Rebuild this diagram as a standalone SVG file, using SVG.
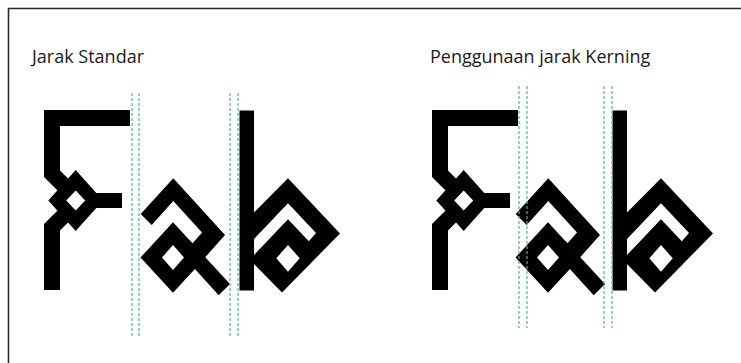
<svg xmlns="http://www.w3.org/2000/svg" width="741" height="363" viewBox="0 0 741 363">
  <style>
    .frame { fill: none; stroke: #2b2b2b; stroke-width: 1.6; }
    .title { font-family: "Open Sans", "Liberation Sans", sans-serif; font-size: 18px; fill: #1a1a1a; }
    .ink { fill: #000; fill-rule: evenodd; }
    .guide { stroke: #45b3ac; stroke-width: 1.2; stroke-dasharray: 3 2; fill: none; }
  </style>
  <defs>
    <g id="glyph-F">
      <rect class="ink" x="44" y="110" width="86" height="16"/>
      <path class="ink" d="M44,110 H60 V170.4 L71,181.4 L60.3,193.3 L44,177 Z"/>
      <path class="ink" d="M44,224 L60.3,207.7 L71,219.6 L60,230.6 V290 H44 Z"/>
      <path class="ink" d="M75.7,170 L103,200.5 L75.7,231 L48.3,200.5 Z M75.7,190.5 L85.2,200.5 L75.7,210.5 L66.2,200.5 Z"/>
      <rect class="ink" x="95" y="193" width="27" height="15"/>
    </g>
    <g id="glyph-a">
      <path class="ink" d="M173,222.2 L205.5,257.5 L173,292.8 L140.5,257.5 Z M173,245 L184,257.5 L173,270 L162,257.5 Z"/>
      <path class="ink" d="M190,240.7 L230,284.1 L218.7,295.3 L184,257.1 Z"/>
      <path class="ink" d="M140.7,214 L173.3,178.3 L225,235 L205,257.5 L192.4,243.4 L202,232.6 L173.3,201 L151.7,225 Z"/>
    </g>
    <g id="glyph-b">
      <path class="ink" d="M239.5,110.5 H254 V212.5 L288,178.3 L340,233.5 L282,292.5 L254,264 V290.5 H239.5 Z M254,239 L288,203.3 L316,233 L308.8,241.2 L288,219.3 L254,255 Z M288,245 L299.7,258.3 L288,271.7 L276.3,258.3 Z"/>
    </g>
  </defs>

  <path class="frame" d="M8.5,363 V8.5 H741"/>

  <g id="title-standard">
    <text class="title" x="32" y="63">Jarak Standar</text>
  </g>
  <g id="title-kerning">
    <text class="title" x="430" y="63">Penggunaan jarak Kerning</text>
  </g>

  <g id="standard-spacing">
    <g id="std-F"><use href="#glyph-F"/></g>
    <g id="std-a"><use href="#glyph-a"/></g>
    <g id="std-b"><use href="#glyph-b"/></g>
  </g>

  <g id="kerning-spacing">
    <g id="kern-F"><use href="#glyph-F" x="388"/></g>
    <g id="kern-a"><use href="#glyph-a" x="375"/></g>
    <g id="kern-b"><use href="#glyph-b" x="373"/></g>
  </g>

  <g id="guides">
    <line class="guide" x1="132" y1="93" x2="132" y2="338"/>
    <line class="guide" x1="139" y1="93" x2="139" y2="338"/>
    <line class="guide" x1="230" y1="93" x2="230" y2="338"/>
    <line class="guide" x1="238" y1="93" x2="238" y2="338"/>
    <line class="guide" x1="519" y1="86" x2="519" y2="328"/>
    <line class="guide" x1="527" y1="86" x2="527" y2="328"/>
    <line class="guide" x1="604" y1="86" x2="604" y2="328"/>
    <line class="guide" x1="612" y1="86" x2="612" y2="328"/>
  </g>
</svg>
